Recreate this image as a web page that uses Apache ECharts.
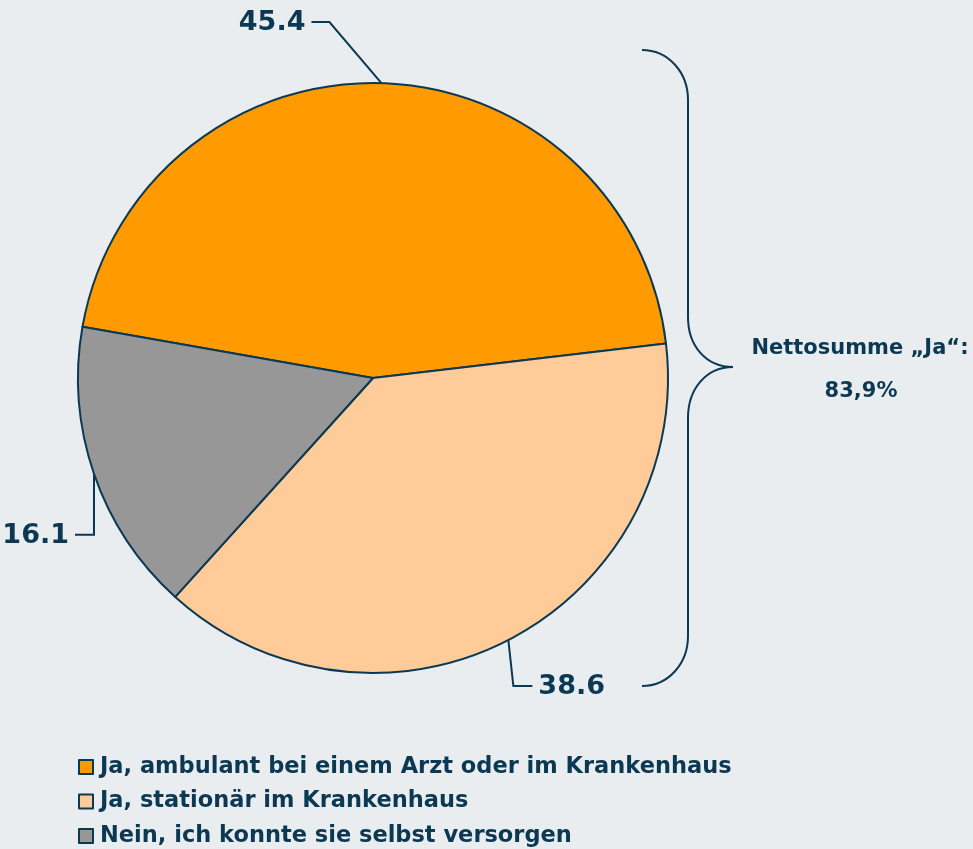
<!DOCTYPE html>
<html>
<head>
<meta charset="utf-8">
<script src="https://cdn.jsdelivr.net/npm/echarts@6/dist/echarts.min.js"></script>
<style>
  html, body { margin: 0; padding: 0; background: #e9edef; }
  #chart { width: 973px; height: 849px; }
</style>
</head>
<body>
<div id="chart"></div>
<script>
// Categories and shares (%) of the pie
const categories = [
  'Ja, ambulant bei einem Arzt oder im Krankenhaus',
  'Ja, stationär im Krankenhaus',
  'Nein, ich konnte sie selbst versorgen'
];
const values = [45.4, 38.6, 16.1];
const colors = ['#ff9a00', '#ffcc99', '#979797'];

// Summary note next to the brace
const netTitle = 'Nettosumme „Ja“:';
const netValue = '83,9%';

const ink = '#0b3954';
const font = '"DejaVu Sans", sans-serif';

// Leader-line shape per slice: bend offset from the arc point, then a horizontal run
const leaders = [
  { bend: [-52, -61], run: -18 },
  { bend: [5, 46], run: 19 },
  { bend: [0, 61], run: -19 }
];

// Curly brace to the right of the pie, built from curves and straight pieces
const braceStyle = { fill: 'none', stroke: ink, lineWidth: 2 };
const brace = [
  { type: 'bezierCurve', shape: { x1: 642, y1: 50, cpx1: 668, cpy1: 50, cpx2: 688, cpy2: 72, x2: 688, y2: 100 } },
  { type: 'line', shape: { x1: 688, y1: 100, x2: 688, y2: 317 } },
  { type: 'bezierCurve', shape: { x1: 688, y1: 317, cpx1: 688, cpy1: 346, cpx2: 706, cpy2: 367, x2: 733, y2: 367 } },
  { type: 'bezierCurve', shape: { x1: 733, y1: 367, cpx1: 706, cpy1: 367, cpx2: 688, cpy2: 389, x2: 688, y2: 418 } },
  { type: 'line', shape: { x1: 688, y1: 418, x2: 688, y2: 636 } },
  { type: 'bezierCurve', shape: { x1: 688, y1: 636, cpx1: 688, cpy1: 664, cpx2: 668, cpy2: 686, x2: 642, y2: 686 } }
].map(el => Object.assign(el, { style: braceStyle, silent: true }));

const chart = echarts.init(document.getElementById('chart'), null, { renderer: 'canvas' });

chart.setOption({
  backgroundColor: '#e9edef',
  animation: false,
  legend: {
    orient: 'vertical',
    left: 78,
    top: 754,
    width: 800,
    height: 110,
    padding: 0,
    icon: 'rect',
    itemWidth: 14,
    itemHeight: 14,
    itemGap: 8.5,
    itemStyle: { borderColor: ink, borderWidth: 2 },
    textStyle: { color: ink, fontFamily: font, fontWeight: 'bold', fontSize: 22.5, lineHeight: 26, padding: [0, 0, 0, 2] },
    data: categories
  },
  graphic: brace.concat([
    {
      type: 'text',
      x: 860,
      y: 349,
      style: { text: netTitle, fill: ink, font: 'bold 21px ' + font, align: 'center', verticalAlign: 'middle' }
    },
    {
      type: 'text',
      x: 861,
      y: 392,
      style: { text: netValue, fill: ink, font: 'bold 21px ' + font, align: 'center', verticalAlign: 'middle' }
    }
  ]),
  series: [{
    type: 'pie',
    center: [373, 378],
    radius: 295,
    startAngle: 170,
    clockwise: true,
    avoidLabelOverlap: false,
    itemStyle: { borderColor: ink, borderWidth: 2 },
    label: {
      show: true,
      position: 'outside',
      formatter: '{c}',
      color: ink,
      fontFamily: font,
      fontWeight: 'bold',
      fontSize: 27
    },
    labelLine: { show: true, length: 20, length2: 20, lineStyle: { color: ink, width: 2 } },
    labelLayout: function (p) {
      const o = leaders[p.dataIndex];
      const start = p.labelLinePoints[0];
      const bend = [start[0] + o.bend[0], start[1] + o.bend[1]];
      const end = [bend[0] + o.run, bend[1]];
      return {
        x: end[0] + (o.run < 0 ? -6 : 6),
        y: end[1] + 1,
        align: o.run < 0 ? 'right' : 'left',
        verticalAlign: 'middle',
        labelLinePoints: [start, bend, end]
      };
    },
    emphasis: { disabled: true },
    data: categories.map((name, i) => ({ name: name, value: values[i], itemStyle: { color: colors[i] } }))
  }]
});
</script>
</body>
</html>
